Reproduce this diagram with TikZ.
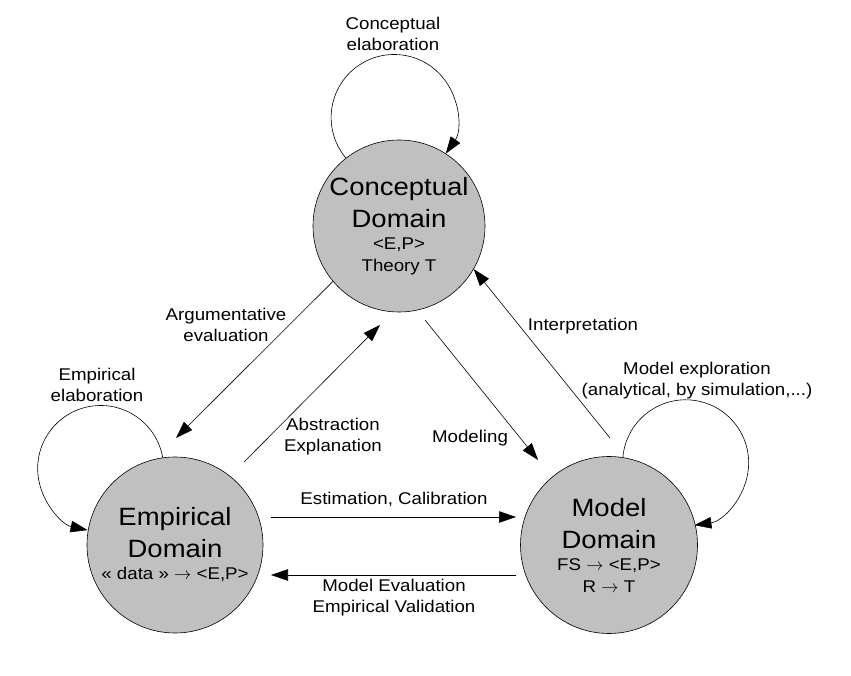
\documentclass[tikz,border=0pt]{standalone}
\usepackage{fontspec}
\setmainfont[FakeStretch=1.1]{Liberation Sans}
\usetikzlibrary{arrows.meta}
\definecolor{domfill}{RGB}{192,192,192}
\newcommand\bigtxt{\fontsize{25}{32}\selectfont}
\newcommand\smtxt{\fontsize{17}{22}\selectfont}
\newcommand\dombox[1]{\hbox to 0pt{\hss\vbox to 0pt{\vss\hsize=170pt\centering #1\par\vss}\hss}}
\begin{document}
\begin{tikzpicture}[x=1pt,y=1pt,
  dom/.style={circle,draw=black,line width=0.6pt,fill=domfill,inner sep=0pt},
  arr/.style={line width=0.6pt,-{Triangle[length=17pt,width=11.5pt]}},
  lbl/.style={align=center,font=\fontsize{17}{21}\selectfont,inner sep=0pt}]
\useasboundingbox (0,0) rectangle (851,675);
% domains
\node[dom,minimum size=172pt] (C) at (399,449) {\dombox{\bigtxt Conceptual\par Domain\par\smtxt <E,P>\par Theory T}};
\node[dom,minimum size=176pt] (E) at (175,130) {\dombox{\bigtxt Empirical\par Domain\par\smtxt « data » $\rightarrow$ <E,P>}};
\node[dom,minimum size=177pt] (M) at (609,130) {\dombox{\bigtxt Model\par Domain\par\smtxt FS $\rightarrow$ <E,P>\par R $\rightarrow$ T}};
% self loops
\draw[arr] (C.128) arc[start angle=220,end angle=-35,radius=63];
\draw[arr] (E.98) arc[start angle=10,end angle=258,radius=63];
\draw[arr] (M.81) arc[start angle=175,end angle=-82,radius=63];
% free ends
\coordinate (argEnd) at (176,237);
\coordinate (absStart) at (244,213);
\coordinate (absEnd) at (380,350);
\coordinate (modStart) at (425,355);
\coordinate (modEnd) at (538,215);
\coordinate (intStart) at (610,237);
\coordinate (estStart) at (271,158);
\coordinate (estEnd) at (516,158);
\coordinate (evStart) at (516,100);
\coordinate (evEnd) at (271,100);
% connectors
\draw[arr] (C.220) -- (argEnd);
\draw[arr] (absStart) -- (absEnd);
\draw[arr] (modStart) -- (modEnd);
\draw[arr] (intStart) -- (C.-30);
\draw[arr] (estStart) -- (estEnd);
\draw[arr] (evStart) -- (evEnd);
% labels
\node[lbl] (lCE) at (393,641) {Conceptual\\elaboration};
\node[lbl] (lAE) at (226,350) {Argumentative\\evaluation};
\node[lbl] (lEE) at (97,290) {Empirical\\elaboration};
\node[lbl] (lAbs) at (333,238) {Abstraction\\Explanation};
\node[lbl] (lMod) at (470,237) {Modeling};
\node[lbl] (lInt) at (583,349) {Interpretation};
\node[lbl] (lME) at (697,294) {Model exploration\\(analytical, by simulation,...)};
\node[lbl] (lEst) at (394,176) {Estimation, Calibration};
\node[lbl] (lEv) at (394,77) {Model Evaluation\\Empirical Validation};
\end{tikzpicture}
\end{document}
